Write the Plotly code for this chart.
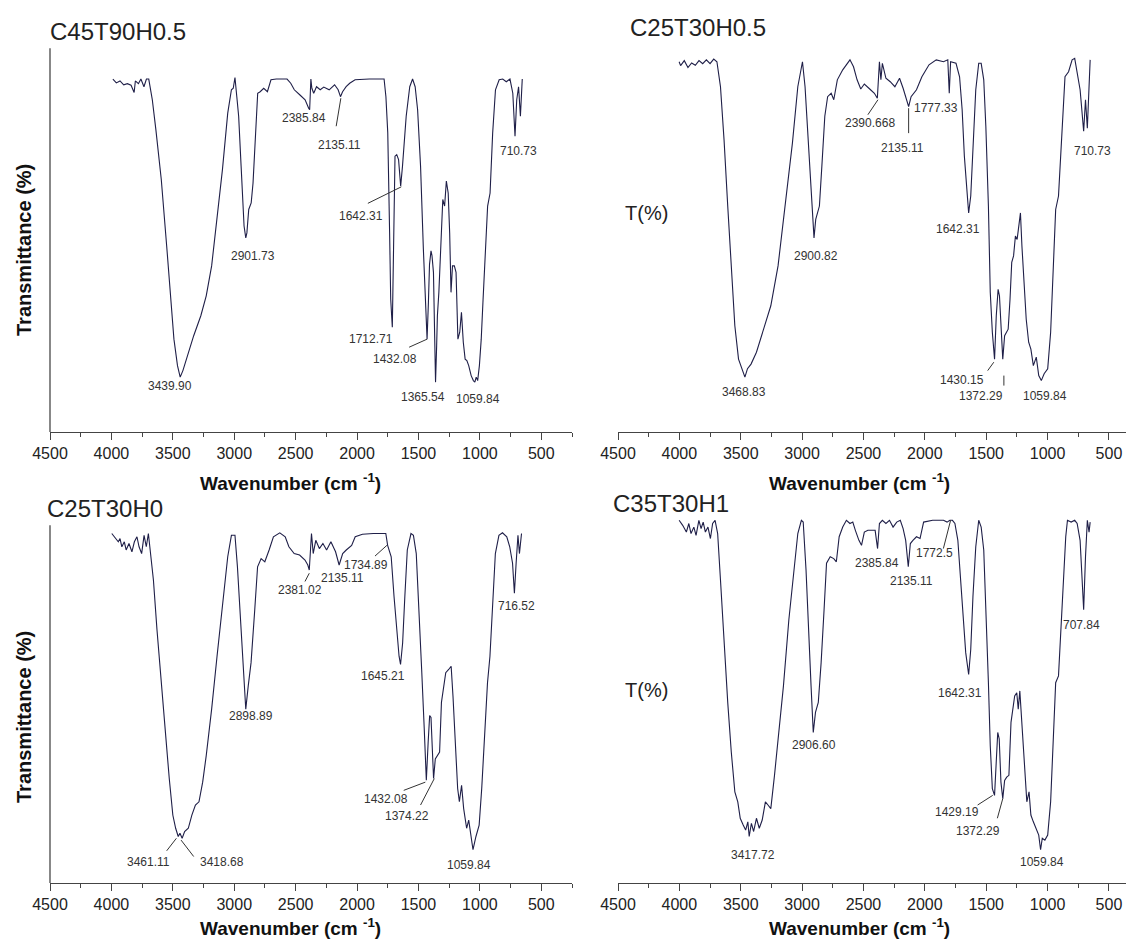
import plotly.graph_objects as go

# ---------------- data (wavenumber cm-1, transmittance %) ----------------
p1_wn = [3988, 3960, 3930, 3900, 3870, 3840, 3815, 3805, 3780, 3760, 3735, 3715, 3696, 3667, 3638, 3594, 3550, 3521, 3491, 3462, 3440, 3418, 3389, 3330, 3272, 3228, 3184, 3140, 3096, 3053, 3023, 3008, 2994, 2979, 2964, 2944, 2920, 2906, 2897, 2882, 2862, 2847, 2827, 2809, 2789, 2760, 2730, 2701, 2657, 2570, 2540, 2511, 2467, 2423, 2394, 2386, 2376, 2368, 2353, 2330, 2300, 2271, 2227, 2183, 2154, 2135, 2118, 2089, 2060, 2016, 1900, 1780, 1765, 1750, 1735, 1726, 1713, 1703, 1691, 1677, 1662, 1645, 1630, 1600, 1571, 1548, 1527, 1507, 1483, 1460, 1440, 1430, 1419, 1410, 1398, 1390, 1378, 1370, 1361, 1352, 1346, 1334, 1317, 1302, 1287, 1273, 1258, 1246, 1235, 1223, 1208, 1194, 1179, 1164, 1150, 1135, 1120, 1106, 1091, 1071, 1053, 1041, 1030, 1018, 1004, 989, 974, 954, 937, 917, 896, 873, 843, 814, 785, 755, 732, 714, 700, 685, 670, 655]
p1_t = [92.0, 91.0, 91.5, 90.5, 90.8, 90.4, 88.5, 91.5, 90.8, 92.0, 90.0, 92.0, 92.0, 86.6, 78.8, 65.8, 48.5, 35.5, 24.2, 17.3, 14.3, 16.0, 19.0, 25.1, 30.3, 35.5, 43.3, 55.4, 68.4, 83.1, 89.2, 89.6, 92.4, 87.4, 82.3, 69.3, 53.7, 50.6, 51.9, 58.0, 59.7, 64.9, 77.9, 88.3, 88.7, 89.6, 88.7, 91.8, 92.0, 92.0, 90.9, 89.2, 87.9, 86.6, 84.4, 84.0, 92.0, 89.6, 88.3, 90.0, 89.2, 89.9, 89.2, 90.5, 89.2, 87.4, 88.7, 90.0, 90.9, 91.8, 92.0, 92.0, 87.4, 78.0, 52.0, 34.6, 27.3, 52.0, 71.9, 72.3, 71.0, 64.1, 69.3, 82.3, 90.0, 92.0, 90.0, 84.0, 69.3, 47.6, 30.3, 24.2, 33.8, 43.7, 47.2, 46.0, 41.6, 26.0, 13.0, 22.5, 30.3, 36.4, 52.0, 60.6, 58.9, 65.4, 62.3, 51.9, 36.4, 43.3, 43.3, 41.6, 24.2, 26.0, 31.2, 23.4, 19.0, 18.6, 17.3, 14.7, 13.4, 13.0, 14.3, 13.4, 17.3, 24.2, 34.6, 47.6, 58.9, 62.3, 77.9, 89.2, 91.8, 92.0, 91.3, 92.0, 88.3, 77.1, 86.6, 90.0, 82.3, 92.0]

p2_wn = [4002, 3990, 3960, 3930, 3900, 3870, 3840, 3810, 3780, 3750, 3720, 3694, 3665, 3636, 3606, 3577, 3548, 3518, 3489, 3466, 3445, 3416, 3372, 3313, 3255, 3196, 3138, 3079, 3035, 2997, 2976, 2947, 2927, 2903, 2889, 2859, 2839, 2815, 2792, 2763, 2742, 2713, 2669, 2639, 2610, 2581, 2552, 2522, 2493, 2449, 2411, 2387, 2370, 2358, 2346, 2317, 2282, 2244, 2206, 2177, 2147, 2132, 2112, 2068, 2024, 1966, 1907, 1848, 1813, 1801, 1790, 1746, 1717, 1696, 1678, 1658, 1643, 1626, 1608, 1585, 1561, 1541, 1520, 1503, 1482, 1467, 1450, 1432, 1418, 1403, 1392, 1380, 1365, 1350, 1336, 1321, 1306, 1292, 1277, 1262, 1248, 1233, 1221, 1209, 1189, 1174, 1154, 1136, 1116, 1092, 1072, 1051, 1028, 999, 975, 955, 934, 911, 882, 858, 829, 800, 779, 759, 735, 706, 691, 676, 653]
p2_t = [96.5, 95.5, 96.8, 95.0, 96.2, 95.6, 96.8, 96.0, 97.0, 96.0, 97.2, 96.5, 90.0, 76.2, 58.9, 41.6, 27.7, 19.0, 16.5, 14.3, 16.5, 17.7, 20.8, 26.8, 32.9, 43.3, 58.9, 75.3, 90.0, 96.5, 90.0, 73.6, 62.3, 50.6, 55.4, 58.9, 69.3, 82.3, 87.4, 88.3, 86.6, 91.8, 94.4, 95.7, 97.0, 95.2, 91.8, 89.4, 90.7, 89.4, 88.3, 87.0, 96.5, 91.8, 96.1, 92.2, 91.3, 90.0, 92.2, 89.6, 86.6, 84.8, 87.4, 89.2, 92.6, 95.7, 97.0, 96.5, 97.0, 88.3, 96.5, 96.1, 92.6, 84.0, 71.9, 62.3, 57.1, 61.5, 74.5, 89.2, 96.1, 96.1, 91.8, 79.7, 58.9, 36.4, 26.0, 19.0, 30.3, 37.2, 35.5, 27.7, 19.0, 25.1, 26.0, 26.8, 34.6, 44.2, 45.9, 51.1, 50.2, 53.7, 57.1, 48.5, 36.4, 29.4, 23.4, 21.6, 17.3, 19.5, 14.7, 13.4, 15.2, 16.5, 26.0, 43.3, 58.0, 61.5, 77.9, 92.6, 93.9, 97.0, 97.4, 93.5, 89.2, 78.4, 86.6, 79.2, 97.0]

p3_wn = [3997, 3974, 3944, 3930, 3915, 3895, 3880, 3857, 3833, 3813, 3792, 3775, 3754, 3734, 3716, 3699, 3681, 3658, 3629, 3594, 3558, 3529, 3500, 3477, 3456, 3442, 3424, 3404, 3374, 3345, 3316, 3287, 3257, 3228, 3184, 3140, 3096, 3053, 3023, 2994, 2974, 2950, 2927, 2906, 2886, 2863, 2833, 2810, 2781, 2751, 2716, 2681, 2629, 2585, 2555, 2512, 2468, 2424, 2401, 2389, 2371, 2357, 2336, 2307, 2278, 2248, 2213, 2175, 2146, 2117, 2088, 2044, 2015, 1956, 1868, 1766, 1751, 1722, 1699, 1678, 1658, 1646, 1629, 1611, 1591, 1561, 1541, 1518, 1494, 1474, 1453, 1436, 1421, 1409, 1398, 1386, 1377, 1363, 1348, 1328, 1313, 1295, 1278, 1254, 1234, 1219, 1202, 1181, 1167, 1149, 1132, 1108, 1091, 1073, 1056, 1032, 1006, 985, 962, 938, 918, 898, 874, 845, 816, 781, 757, 734, 719, 705, 690, 678, 661]
p3_t = [97.7, 96.8, 95.4, 96.3, 94.0, 95.4, 93.1, 94.9, 92.6, 95.4, 96.8, 94.0, 92.1, 97.2, 94.0, 97.7, 91.2, 84.7, 70.8, 55.1, 41.2, 29.2, 19.0, 15.3, 13.0, 13.9, 12.5, 14.4, 15.3, 19.0, 21.8, 22.7, 28.2, 35.6, 48.6, 63.4, 78.2, 91.2, 97.2, 97.2, 88.4, 73.6, 57.9, 48.6, 55.1, 61.6, 76.4, 88.4, 90.7, 89.8, 93.1, 96.8, 97.9, 96.8, 94.0, 92.1, 91.7, 90.3, 88.9, 87.5, 97.7, 92.1, 95.8, 93.5, 94.9, 93.1, 95.4, 92.6, 88.9, 92.1, 93.1, 94.4, 96.8, 97.5, 97.7, 97.7, 94.4, 91.2, 80.1, 70.8, 63.4, 61.1, 67.1, 80.1, 93.1, 97.7, 97.2, 92.1, 76.4, 59.7, 43.1, 28.7, 39.4, 46.8, 46.3, 34.7, 29.2, 34.7, 35.6, 36.6, 50.5, 55.1, 58.8, 59.7, 60.6, 52.3, 39.4, 26.4, 22.7, 27.3, 20.8, 15.3, 17.6, 13.4, 9.3, 13.0, 16.2, 26.4, 41.2, 56.0, 63.4, 78.2, 92.1, 97.2, 97.9, 96.8, 94.0, 89.4, 81.0, 89.4, 97.2, 92.1, 97.7]

p4_wn = [4002, 3973, 3943, 3923, 3905, 3882, 3864, 3841, 3823, 3806, 3788, 3767, 3747, 3729, 3709, 3688, 3665, 3636, 3606, 3577, 3548, 3524, 3504, 3480, 3460, 3442, 3431, 3413, 3395, 3372, 3349, 3325, 3299, 3278, 3255, 3225, 3196, 3152, 3108, 3064, 3035, 3006, 2991, 2968, 2947, 2927, 2909, 2891, 2868, 2845, 2821, 2801, 2771, 2742, 2721, 2698, 2669, 2639, 2610, 2587, 2566, 2537, 2516, 2493, 2464, 2405, 2385, 2370, 2346, 2317, 2288, 2259, 2229, 2200, 2177, 2156, 2135, 2118, 2097, 2068, 2039, 2010, 1936, 1848, 1819, 1796, 1775, 1755, 1731, 1708, 1687, 1667, 1643, 1626, 1608, 1585, 1561, 1541, 1520, 1503, 1482, 1467, 1450, 1432, 1418, 1406, 1394, 1380, 1365, 1350, 1333, 1315, 1298, 1283, 1268, 1251, 1239, 1226, 1210, 1189, 1169, 1151, 1136, 1116, 1092, 1072, 1057, 1043, 1022, 999, 975, 955, 934, 911, 882, 852, 838, 808, 779, 759, 735, 718, 706, 691, 676, 662, 653]
p4_t = [101.4, 100.0, 98.1, 100.5, 97.7, 99.5, 97.2, 101.4, 99.1, 100.9, 98.1, 99.5, 96.3, 100.5, 101.4, 97.7, 84.7, 67.1, 50.5, 36.6, 25.5, 22.7, 18.1, 16.2, 14.8, 17.1, 13.0, 16.7, 14.4, 18.1, 15.3, 17.6, 22.7, 21.8, 20.8, 30.1, 39.4, 55.1, 73.6, 89.4, 97.7, 101.4, 100.9, 87.5, 69.0, 55.1, 42.1, 47.7, 50.5, 61.6, 76.4, 89.4, 91.2, 90.7, 89.8, 96.8, 99.5, 101.4, 100.5, 100.9, 98.6, 95.8, 94.4, 98.1, 98.6, 98.6, 93.5, 100.5, 101.4, 100.5, 101.4, 99.5, 100.9, 101.4, 99.1, 95.8, 88.4, 94.9, 95.8, 96.8, 96.3, 100.9, 101.4, 101.4, 100.9, 101.4, 101.4, 100.5, 95.8, 84.7, 72.7, 64.4, 58.3, 65.3, 80.1, 94.0, 101.4, 99.5, 93.1, 78.2, 56.0, 38.4, 26.4, 24.5, 35.6, 42.1, 40.3, 28.2, 23.6, 28.7, 29.6, 30.1, 44.9, 48.6, 52.3, 53.2, 48.6, 53.7, 44.9, 31.9, 22.7, 25.5, 19.0, 17.1, 15.3, 13.4, 9.3, 12.5, 12.0, 13.4, 22.7, 41.2, 56.0, 57.9, 76.4, 96.8, 101.4, 100.9, 101.4, 100.5, 95.8, 84.7, 76.4, 91.2, 101.4, 98.1, 100.9]

titles = ["C45T90H0.5", "C25T30H0.5", "C25T30H0", "C35T30H1"]
tick_vals = [4500, 4000, 3500, 3000, 2500, 2000, 1500, 1000, 500]
tick_text = ["4500", "4000", "3500", "3000", "2500", "2000", "1500", "1000", "500"]

# peak labels: text, x (wavenumber), y (T)
p1_lab = ["3439.90", "2901.73", "2385.84", "2135.11", "710.73", "1642.31", "1712.71", "1432.08", "1365.54", "1059.84"]
p1_lx = [3520, 2848, 2430, 2146, 684, 1971, 1883, 1693, 1465, 1012]
p1_ly = [12.1, 45.9, 81.8, 74.9, 73.2, 56.3, 24.2, 19.0, 9.1, 8.7]
p1_lead = [(2170, 79.7, 2132, 87.0), (1912, 59.6, 1640, 63.9), (1576, 22.1, 1430, 24.2)]

p2_lab = ["3468.83", "2900.82", "2390.668", "2135.11", "1777.33", "710.73", "1642.31", "1430.15", "1372.29", "1059.84"]
p2_lx = [3475, 2889, 2449, 2185, 1907, 633, 1731, 1696, 1541, 1019]
p2_ly = [10.4, 45.9, 80.5, 74.0, 84.4, 73.2, 53.0, 13.6, 9.4, 9.4]
p2_lead = [(2464, 82.7, 2382, 86.6), (2132, 84.4, 2132, 77.9), (1488, 16.0, 1438, 18.2), (1356, 14.7, 1356, 12.1)]

p3_lab = ["3461.11", "3418.68", "2898.89", "2381.02", "2135.11", "1734.89", "716.52", "1645.21", "1432.08", "1374.22", "1059.84"]
p3_lx = [3696, 3096, 2863, 2468, 2117, 1927, 699, 1787, 1766, 1596, 1085]
p3_ly = [6.0, 5.8, 46.8, 81.8, 85.4, 88.9, 77.5, 57.9, 23.6, 18.8, 5.1]
p3_lead = [(3550, 9.0, 3471, 12.5), (3330, 7.4, 3433, 12.0), (2424, 84.3, 2389, 86.6), (1854, 91.4, 1757, 94.4), (1620, 25.9, 1444, 28.2), (1483, 21.8, 1371, 29.2)]

p4_lab = ["3417.72", "2906.60", "2385.84", "2135.11", "1772.5", "707.84", "1642.31", "1429.19", "1372.29", "1059.84"]
p4_lx = [3401, 2903, 2390, 2112, 1924, 720, 1717, 1740, 1570, 1043]
p4_ly = [7.9, 38.6, 89.5, 84.3, 92.3, 72.2, 53.1, 19.9, 14.5, 6.0]
p4_lead = [(1849, 93.5, 1790, 101.4), (1570, 21.8, 1447, 24.5), (1409, 18.1, 1365, 23.6)]

# ---------------- figure ----------------
W, H = 1126, 942
FONT = "Liberation Sans, Arial, sans-serif"
LINE = "#1f1f48"
TXT = "#333333"

def px(x):
    return x / W

def py(y):
    return 1 - y / H

fig = go.Figure()

panels = [
    (p1_wn, p1_t, p1_lab, p1_lx, p1_ly, p1_lead),
    (p2_wn, p2_t, p2_lab, p2_lx, p2_ly, p2_lead),
    (p3_wn, p3_t, p3_lab, p3_lx, p3_ly, p3_lead),
    (p4_wn, p4_t, p4_lab, p4_lx, p4_ly, p4_lead),
]

# pixel layout: (x_left, x_right, x range end)
xdoms = [(50, 572, 250), (618, 1126, 361), (50, 572, 250), (618, 1126, 361)]
ydoms = [(33, 432), (33, 432), (511, 883), (511, 883)]

annotations = []
shapes = []
for i, (wn, t, lab, lx, ly, lead) in enumerate(panels):
    n = i + 1
    xa = "x" if n == 1 else f"x{n}"
    ya = "y" if n == 1 else f"y{n}"
    fig.add_trace(go.Scatter(x=wn, y=t, mode="lines", xaxis=xa, yaxis=ya,
                             line=dict(color=LINE, width=1.1), showlegend=False,
                             hoverinfo="skip"))
    xl, xr, xend = xdoms[i]
    yt, yb = ydoms[i]
    axname = "xaxis" if n == 1 else f"xaxis{n}"
    ayname = "yaxis" if n == 1 else f"yaxis{n}"
    fig.layout[axname] = dict(
        domain=[px(xl), px(xr)], range=[4500, xend], anchor=ya,
        showline=True, linecolor="#444", linewidth=1.4,
        ticks="outside", ticklen=7, tickwidth=1.4, tickcolor="#444",
        tickvals=tick_vals, ticktext=tick_text,
        tickfont=dict(family=FONT, size=16, color="#222"),
        minor=dict(dtick=250, tick0=0, ticks="outside", ticklen=4, tickwidth=1.2, tickcolor="#444"),
        showgrid=False, zeroline=False, fixedrange=True, automargin=False,
    )
    fig.layout[ayname] = dict(
        domain=[py(yb), py(yt)], range=[0, 104], anchor=xa,
        showline=False, showticklabels=False, ticks="", showgrid=False, zeroline=False,
        automargin=False, fixedrange=True,
    )
    for s, x, y in zip(lab, lx, ly):
        annotations.append(dict(x=x, y=y, xref=xa, yref=ya, text=s, showarrow=False,
                                font=dict(family=FONT, size=12, color=TXT),
                                xanchor="center", yanchor="middle"))
    for (x0, y0, x1, y1) in lead:
        shapes.append(dict(type="line", xref=xa, yref=ya, x0=x0, y0=y0, x1=x1, y1=y1,
                           line=dict(color="#333", width=1)))
    # x-axis title
    cx = 290 if n in (1, 3) else 860
    cy = 482 if n in (1, 2) else 927
    annotations.append(dict(x=px(cx), y=py(cy), xref="paper", yref="paper",
                            text="<b>Wavenumber (cm <sup>-1</sup>)</b>", showarrow=False,
                            font=dict(family=FONT, size=19, color="#111"),
                            xanchor="center", yanchor="middle"))

# vertical axis lines on the left panels
for ya, xa in (("y", "x"), ("y3", "x3")):
    shapes.append(dict(type="line", xref=f"{xa} domain", yref=ya, x0=0, x1=0, y0=0, y1=100,
                       line=dict(color="#555", width=1.4)))

# panel titles
title_pos = [(48, 32), (628, 28), (45, 508), (611, 503)]
for s, (tx, ty) in zip(titles, title_pos):
    annotations.append(dict(x=px(tx), y=py(ty), xref="paper", yref="paper", text=s,
                            showarrow=False, font=dict(family=FONT, size=24, color="#222"),
                            xanchor="left", yanchor="middle"))

# y-axis titles
for cy in (250, 717):
    annotations.append(dict(x=px(24), y=py(cy), xref="paper", yref="paper",
                            text="<b>Transmittance (%)</b>", textangle=-90, showarrow=False,
                            font=dict(family=FONT, size=20, color="#111"),
                            xanchor="center", yanchor="middle"))
for cy in (213, 690):
    annotations.append(dict(x=px(646), y=py(cy), xref="paper", yref="paper",
                            text="T(%)", showarrow=False,
                            font=dict(family=FONT, size=20, color="#222"),
                            xanchor="center", yanchor="middle"))

fig.update_layout(width=W, height=H, margin=dict(l=0, r=0, t=0, b=0),
                  paper_bgcolor="white", plot_bgcolor="white",
                  annotations=annotations, shapes=shapes, showlegend=False)

fig.write_html("out.html", config={"displayModeBar": False},
               post_script="document.body.style.margin='0px';document.body.style.overflow='hidden';")
